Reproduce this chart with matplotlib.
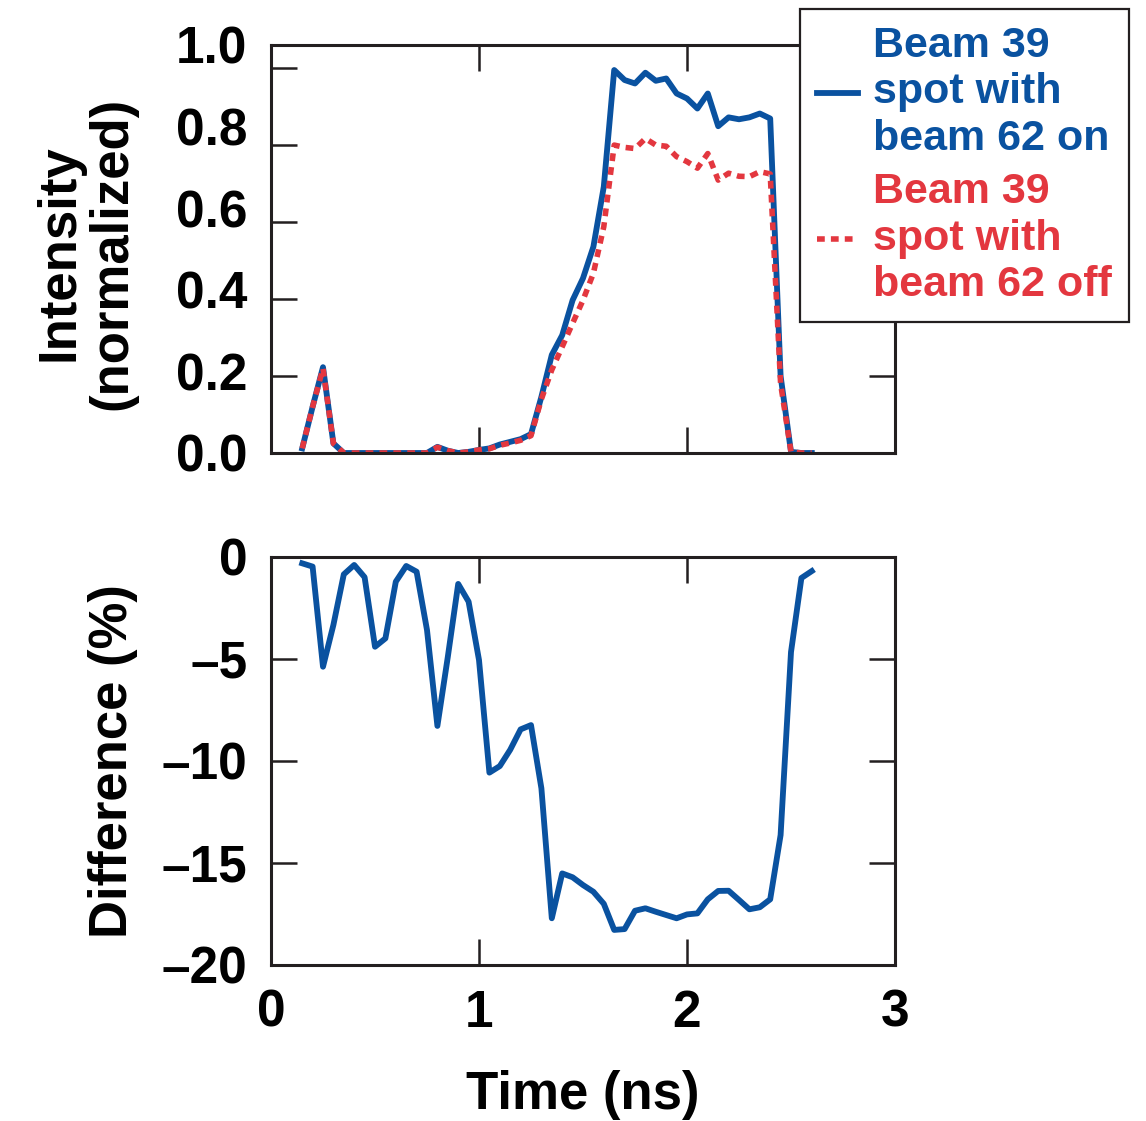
import numpy as np
import matplotlib
matplotlib.use("Agg")
import matplotlib.pyplot as plt

plt.rcParams['font.family'] = ['Liberation Sans', 'DejaVu Sans']
plt.rcParams['font.weight'] = 'bold'

# time axis (ns), one sample every 0.05 ns
time_ns = [0.15, 0.20, 0.25, 0.30, 0.35, 0.40, 0.45, 0.50, 0.55, 0.60,
           0.65, 0.70, 0.75, 0.80, 0.85, 0.90, 0.95, 1.00, 1.05, 1.10,
           1.15, 1.20, 1.25, 1.30, 1.35, 1.40, 1.45, 1.50, 1.55, 1.60,
           1.65, 1.70, 1.75, 1.80, 1.85, 1.90, 1.95, 2.00, 2.05, 2.10,
           2.15, 2.20, 2.25, 2.30, 2.35, 2.40, 2.45, 2.50, 2.55, 2.60]

beam_on = [0.012, 0.12, 0.223, 0.025, 0.0, 0.0, 0.0, 0.0, 0.0, 0.0,
           0.0, 0.0, 0.0, 0.016, 0.006, 0.0, 0.003, 0.008, 0.012, 0.022,
           0.029, 0.036, 0.049, 0.146, 0.255, 0.306, 0.397, 0.454, 0.536, 0.692,
           0.995, 0.969, 0.960, 0.988, 0.967, 0.973, 0.934, 0.921, 0.895, 0.934,
           0.849, 0.872, 0.867, 0.872, 0.882, 0.869, 0.20, 0.003, 0.0, 0.0]

beam_off = [0.012, 0.12, 0.22, 0.025, 0.0, 0.0, 0.0, 0.0, 0.0, 0.0,
            0.0, 0.0, 0.0, 0.015, 0.006, 0.0, 0.003, 0.008, 0.011, 0.020,
            0.026, 0.033, 0.045, 0.140, 0.216, 0.276, 0.337, 0.397, 0.467, 0.588,
            0.800, 0.794, 0.791, 0.817, 0.800, 0.797, 0.770, 0.757, 0.740, 0.778,
            0.709, 0.727, 0.719, 0.718, 0.731, 0.725, 0.18, 0.003, 0.0, 0.0]

difference = [-0.31, -0.47, -5.38, -3.33, -0.85, -0.39, -0.99, -4.40, -3.99, -1.21,
              -0.44, -0.72, -3.58, -8.28, -4.90, -1.32, -2.19, -5.05, -10.57, -10.25,
              -9.45, -8.45, -8.24, -11.34, -17.71, -15.51, -15.70, -16.08, -16.41, -17.00,
              -18.28, -18.24, -17.34, -17.22, -17.39, -17.55, -17.71, -17.52, -17.47, -16.78,
              -16.37, -16.36, -16.81, -17.27, -17.17, -16.78, -13.63, -4.66, -1.03, -0.69]

x_ticks = [0, 1, 2, 3]
top_ticks = [0.0, 0.2, 0.4, 0.6, 0.8, 1.0]
top_labels = ['0.0', '0.2', '0.4', '0.6', '0.8', '1.0']
bot_ticks = [-20, -15, -10, -5, 0]
bot_labels = ['\u201320', '\u201315', '\u201310', '\u20135', '0']

blue = '#0a52a0'
red = '#e3373f'
ink = '#231f20'

W, H = 1146, 1121
fig = plt.figure(figsize=(W / 100, H / 100), dpi=100)


def frac(x0, y0, x1, y1):
    return [x0 / W, 1 - y1 / H, (x1 - x0) / W, (y1 - y0) / H]


def style(ax):
    for s in ax.spines.values():
        s.set_linewidth(2.2)
        s.set_color(ink)
    ax.tick_params(direction='in', length=18.5, width=1.8, color=ink,
                   top=True, right=True, labelsize=37, pad=17)


ax1 = fig.add_axes(frac(271, 45, 895, 453))
ax2 = fig.add_axes(frac(271, 557, 895, 965))

# top panel
l1, = ax1.plot(time_ns, beam_on, color=blue, lw=4.2)
l2, = ax1.plot(time_ns, beam_off, color=red, lw=4.0, linestyle=(0, (1.4, 1.1)))
ax1.set_xlim(0, 3)
ax1.set_ylim(0, 1.06)
ax1.set_xticks(x_ticks)
ax1.set_yticks(top_ticks)
style(ax1)
ax1.tick_params(labelbottom=False, labelleft=False)

# tick labels of the top panel sit on an evenly spread scale
lab = fig.add_axes(frac(271, 45, 895, 453), frameon=False)
lab.set_ylim(0, 1.0)
lab.set_xticks([])
lab.set_yticks(top_ticks)
lab.set_yticklabels(top_labels)
lab.tick_params(axis='y', length=0, labelsize=37, pad=17)
lab.patch.set_visible(False)

ax1.set_ylabel('Intensity\n(normalized)', fontsize=38, fontweight='bold',
               va='center', linespacing=1.08)
ax1.yaxis.set_label_coords(-0.297, 0.49)

# bottom panel
ax2.plot(time_ns, difference, color=blue, lw=4.2)
ax2.set_xlim(0, 3)
ax2.set_ylim(-20, 0)
ax2.set_xticks(x_ticks)
ax2.set_yticks(bot_ticks)
ax2.set_yticklabels(bot_labels)
style(ax2)
ax2.tick_params(axis='y', pad=17)
ax2.set_ylabel('Difference (%)', fontsize=38, fontweight='bold', va='center')
ax2.yaxis.set_label_coords(-0.253, 0.50)
ax2.set_xlabel('Time (ns)', fontsize=38, fontweight='bold', va='center')
ax2.xaxis.set_label_coords(0.5, -0.318)

leg = fig.legend([l1, l2],
                 ['Beam 39\nspot with\nbeam 62 on', 'Beam 39\nspot with\nbeam 62 off'],
                 loc='upper left', bbox_to_anchor=(800 / W, 1 - 9 / H),
                 prop={'family': 'Liberation Sans', 'weight': 'bold', 'size': 31},
                 fancybox=False, framealpha=1, edgecolor=ink,
                 borderpad=0.4, borderaxespad=0, handlelength=0.95,
                 handletextpad=0.35, labelspacing=0.32)
leg.get_frame().set_linewidth(1.6)
for t, c in zip(leg.get_texts(), [blue, red]):
    t.set_color(c)
    t.set_linespacing(1.2)

fig.savefig('out.png', dpi=100)
